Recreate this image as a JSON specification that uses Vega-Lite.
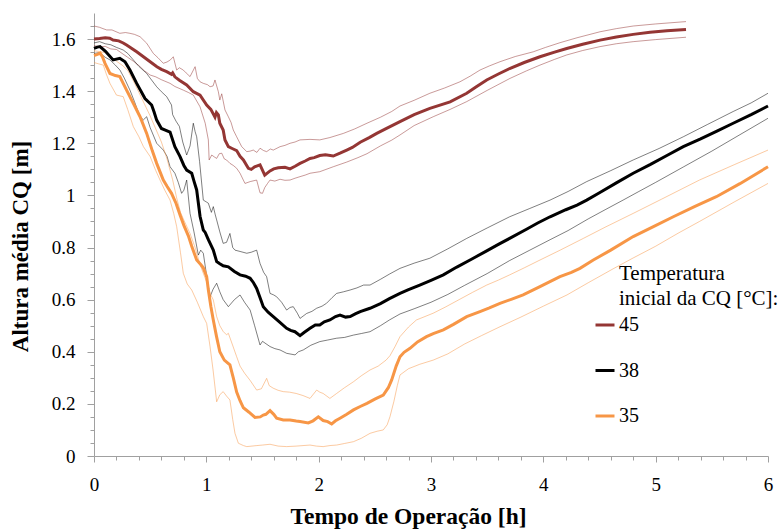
{
"$schema": "https://vega.github.io/schema/vega-lite/v6.json",
"width": 674, "height": 443,
"autosize": {"type": "none"},
"padding": {"left": 94, "top": 13, "right": 11, "bottom": 73},
"background": "white",
"config": {"view": {"stroke": null}, "font": "Liberation Serif"},
"data": {"values": [
{"s":"45","k":"m","t":0,"h":1.6},{"s":"45","k":"m","t":0.05,"h":1.602},{"s":"45","k":"m","t":0.1,"h":1.605},{"s":"45","k":"m","t":0.14,"h":1.603},{"s":"45","k":"m","t":0.17,"h":1.596},{"s":"45","k":"m","t":0.22,"h":1.593},{"s":"45","k":"m","t":0.26,"h":1.585},{"s":"45","k":"m","t":0.29,"h":1.577},{"s":"45","k":"m","t":0.33,"h":1.566},{"s":"45","k":"m","t":0.38,"h":1.551},{"s":"45","k":"m","t":0.44,"h":1.532},{"s":"45","k":"m","t":0.5,"h":1.513},{"s":"45","k":"m","t":0.56,"h":1.494},{"s":"45","k":"m","t":0.6,"h":1.484},{"s":"45","k":"m","t":0.647,"h":1.475},{"s":"45","k":"m","t":0.69,"h":1.465},{"s":"45","k":"m","t":0.7,"h":1.47},{"s":"45","k":"m","t":0.72,"h":1.455},{"s":"45","k":"m","t":0.76,"h":1.442},{"s":"45","k":"m","t":0.825,"h":1.424},{"s":"45","k":"m","t":0.884,"h":1.398},{"s":"45","k":"m","t":0.944,"h":1.385},{"s":"45","k":"m","t":1.003,"h":1.347},{"s":"45","k":"m","t":1.04,"h":1.33},{"s":"45","k":"m","t":1.077,"h":1.3},{"s":"45","k":"m","t":1.09,"h":1.318},{"s":"45","k":"m","t":1.107,"h":1.309},{"s":"45","k":"m","t":1.12,"h":1.277},{"s":"45","k":"m","t":1.15,"h":1.251},{"s":"45","k":"m","t":1.166,"h":1.213},{"s":"45","k":"m","t":1.196,"h":1.187},{"s":"45","k":"m","t":1.23,"h":1.18},{"s":"45","k":"m","t":1.27,"h":1.172},{"s":"45","k":"m","t":1.3,"h":1.15},{"s":"45","k":"m","t":1.33,"h":1.136},{"s":"45","k":"m","t":1.374,"h":1.104},{"s":"45","k":"m","t":1.4,"h":1.1},{"s":"45","k":"m","t":1.43,"h":1.11},{"s":"45","k":"m","t":1.478,"h":1.117},{"s":"45","k":"m","t":1.52,"h":1.078},{"s":"45","k":"m","t":1.567,"h":1.094},{"s":"45","k":"m","t":1.6,"h":1.102},{"s":"45","k":"m","t":1.64,"h":1.106},{"s":"45","k":"m","t":1.7,"h":1.108},{"s":"45","k":"m","t":1.745,"h":1.102},{"s":"45","k":"m","t":1.79,"h":1.112},{"s":"45","k":"m","t":1.834,"h":1.123},{"s":"45","k":"m","t":1.88,"h":1.132},{"s":"45","k":"m","t":1.923,"h":1.142},{"s":"45","k":"m","t":1.96,"h":1.145},{"s":"45","k":"m","t":2.01,"h":1.153},{"s":"45","k":"m","t":2.06,"h":1.156},{"s":"45","k":"m","t":2.13,"h":1.151},{"s":"45","k":"m","t":2.19,"h":1.162},{"s":"45","k":"m","t":2.25,"h":1.174},{"s":"45","k":"m","t":2.3,"h":1.184},{"s":"45","k":"m","t":2.37,"h":1.204},{"s":"45","k":"m","t":2.45,"h":1.222},{"s":"45","k":"m","t":2.517,"h":1.238},{"s":"45","k":"m","t":2.6,"h":1.256},{"s":"45","k":"m","t":2.724,"h":1.283},{"s":"45","k":"m","t":2.85,"h":1.31},{"s":"45","k":"m","t":2.99,"h":1.334},{"s":"45","k":"m","t":3.17,"h":1.359},{"s":"45","k":"m","t":3.318,"h":1.392},{"s":"45","k":"m","t":3.4,"h":1.416},{"s":"45","k":"m","t":3.496,"h":1.443},{"s":"45","k":"m","t":3.6,"h":1.466},{"s":"45","k":"m","t":3.7,"h":1.487},{"s":"45","k":"m","t":3.83,"h":1.51},{"s":"45","k":"m","t":3.97,"h":1.532},{"s":"45","k":"m","t":4.1,"h":1.55},{"s":"45","k":"m","t":4.208,"h":1.564},{"s":"45","k":"m","t":4.35,"h":1.58},{"s":"45","k":"m","t":4.505,"h":1.596},{"s":"45","k":"m","t":4.65,"h":1.608},{"s":"45","k":"m","t":4.8,"h":1.618},{"s":"45","k":"m","t":4.95,"h":1.626},{"s":"45","k":"m","t":5.1,"h":1.632},{"s":"45","k":"m","t":5.27,"h":1.637},
{"s":"45","k":"u","t":0,"h":1.65},{"s":"45","k":"u","t":0.05,"h":1.645},{"s":"45","k":"u","t":0.08,"h":1.64},{"s":"45","k":"u","t":0.113,"h":1.635},{"s":"45","k":"u","t":0.16,"h":1.635},{"s":"45","k":"u","t":0.23,"h":1.622},{"s":"45","k":"u","t":0.28,"h":1.625},{"s":"45","k":"u","t":0.32,"h":1.622},{"s":"45","k":"u","t":0.36,"h":1.618},{"s":"45","k":"u","t":0.41,"h":1.609},{"s":"45","k":"u","t":0.469,"h":1.584},{"s":"45","k":"u","t":0.528,"h":1.545},{"s":"45","k":"u","t":0.57,"h":1.528},{"s":"45","k":"u","t":0.617,"h":1.507},{"s":"45","k":"u","t":0.65,"h":1.512},{"s":"45","k":"u","t":0.68,"h":1.52},{"s":"45","k":"u","t":0.706,"h":1.532},{"s":"45","k":"u","t":0.736,"h":1.481},{"s":"45","k":"u","t":0.76,"h":1.49},{"s":"45","k":"u","t":0.795,"h":1.481},{"s":"45","k":"u","t":0.82,"h":1.47},{"s":"45","k":"u","t":0.855,"h":1.456},{"s":"45","k":"u","t":0.9,"h":1.494},{"s":"45","k":"u","t":0.92,"h":1.449},{"s":"45","k":"u","t":0.944,"h":1.436},{"s":"45","k":"u","t":0.973,"h":1.43},{"s":"45","k":"u","t":1.01,"h":1.425},{"s":"45","k":"u","t":1.033,"h":1.417},{"s":"45","k":"u","t":1.06,"h":1.42},{"s":"45","k":"u","t":1.077,"h":1.443},{"s":"45","k":"u","t":1.107,"h":1.398},{"s":"45","k":"u","t":1.12,"h":1.366},{"s":"45","k":"u","t":1.137,"h":1.39},{"s":"45","k":"u","t":1.166,"h":1.328},{"s":"45","k":"u","t":1.196,"h":1.302},{"s":"45","k":"u","t":1.22,"h":1.28},{"s":"45","k":"u","t":1.24,"h":1.251},{"s":"45","k":"u","t":1.27,"h":1.225},{"s":"45","k":"u","t":1.315,"h":1.187},{"s":"45","k":"u","t":1.36,"h":1.168},{"s":"45","k":"u","t":1.39,"h":1.17},{"s":"45","k":"u","t":1.418,"h":1.174},{"s":"45","k":"u","t":1.45,"h":1.165},{"s":"45","k":"u","t":1.478,"h":1.181},{"s":"45","k":"u","t":1.51,"h":1.172},{"s":"45","k":"u","t":1.537,"h":1.168},{"s":"45","k":"u","t":1.57,"h":1.178},{"s":"45","k":"u","t":1.596,"h":1.174},{"s":"45","k":"u","t":1.656,"h":1.187},{"s":"45","k":"u","t":1.7,"h":1.192},{"s":"45","k":"u","t":1.745,"h":1.2},{"s":"45","k":"u","t":1.79,"h":1.205},{"s":"45","k":"u","t":1.834,"h":1.213},{"s":"45","k":"u","t":1.923,"h":1.215},{"s":"45","k":"u","t":2.01,"h":1.213},{"s":"45","k":"u","t":2.1,"h":1.222},{"s":"45","k":"u","t":2.22,"h":1.238},{"s":"45","k":"u","t":2.32,"h":1.255},{"s":"45","k":"u","t":2.43,"h":1.277},{"s":"45","k":"u","t":2.55,"h":1.3},{"s":"45","k":"u","t":2.65,"h":1.322},{"s":"45","k":"u","t":2.724,"h":1.343},{"s":"45","k":"u","t":2.85,"h":1.365},{"s":"45","k":"u","t":2.99,"h":1.392},{"s":"45","k":"u","t":3.12,"h":1.412},{"s":"45","k":"u","t":3.258,"h":1.436},{"s":"45","k":"u","t":3.35,"h":1.458},{"s":"45","k":"u","t":3.436,"h":1.481},{"s":"45","k":"u","t":3.52,"h":1.497},{"s":"45","k":"u","t":3.614,"h":1.513},{"s":"45","k":"u","t":3.75,"h":1.533},{"s":"45","k":"u","t":3.91,"h":1.551},{"s":"45","k":"u","t":4.02,"h":1.568},{"s":"45","k":"u","t":4.148,"h":1.586},{"s":"45","k":"u","t":4.3,"h":1.605},{"s":"45","k":"u","t":4.505,"h":1.628},{"s":"45","k":"u","t":4.65,"h":1.64},{"s":"45","k":"u","t":4.8,"h":1.65},{"s":"45","k":"u","t":5,"h":1.658},{"s":"45","k":"u","t":5.27,"h":1.667},
{"s":"45","k":"l","t":0,"h":1.575},{"s":"45","k":"l","t":0.05,"h":1.57},{"s":"45","k":"l","t":0.1,"h":1.572},{"s":"45","k":"l","t":0.15,"h":1.562},{"s":"45","k":"l","t":0.2,"h":1.56},{"s":"45","k":"l","t":0.25,"h":1.545},{"s":"45","k":"l","t":0.3,"h":1.53},{"s":"45","k":"l","t":0.35,"h":1.515},{"s":"45","k":"l","t":0.4,"h":1.498},{"s":"45","k":"l","t":0.45,"h":1.478},{"s":"45","k":"l","t":0.5,"h":1.462},{"s":"45","k":"l","t":0.55,"h":1.455},{"s":"45","k":"l","t":0.6,"h":1.444},{"s":"45","k":"l","t":0.677,"h":1.43},{"s":"45","k":"l","t":0.72,"h":1.418},{"s":"45","k":"l","t":0.795,"h":1.404},{"s":"45","k":"l","t":0.84,"h":1.395},{"s":"45","k":"l","t":0.884,"h":1.385},{"s":"45","k":"l","t":0.944,"h":1.34},{"s":"45","k":"l","t":0.99,"h":1.277},{"s":"45","k":"l","t":1.018,"h":1.213},{"s":"45","k":"l","t":1.025,"h":1.136},{"s":"45","k":"l","t":1.048,"h":1.155},{"s":"45","k":"l","t":1.07,"h":1.148},{"s":"45","k":"l","t":1.092,"h":1.142},{"s":"45","k":"l","t":1.115,"h":1.16},{"s":"45","k":"l","t":1.137,"h":1.162},{"s":"45","k":"l","t":1.16,"h":1.14},{"s":"45","k":"l","t":1.18,"h":1.136},{"s":"45","k":"l","t":1.21,"h":1.123},{"s":"45","k":"l","t":1.24,"h":1.115},{"s":"45","k":"l","t":1.27,"h":1.104},{"s":"45","k":"l","t":1.3,"h":1.085},{"s":"45","k":"l","t":1.344,"h":1.046},{"s":"45","k":"l","t":1.39,"h":1.053},{"s":"45","k":"l","t":1.448,"h":1.059},{"s":"45","k":"l","t":1.478,"h":1.01},{"s":"45","k":"l","t":1.5,"h":1.008},{"s":"45","k":"l","t":1.52,"h":1.03},{"s":"45","k":"l","t":1.545,"h":1.046},{"s":"45","k":"l","t":1.567,"h":1.059},{"s":"45","k":"l","t":1.61,"h":1.055},{"s":"45","k":"l","t":1.656,"h":1.062},{"s":"45","k":"l","t":1.7,"h":1.058},{"s":"45","k":"l","t":1.745,"h":1.059},{"s":"45","k":"l","t":1.79,"h":1.066},{"s":"45","k":"l","t":1.834,"h":1.072},{"s":"45","k":"l","t":1.88,"h":1.078},{"s":"45","k":"l","t":1.923,"h":1.085},{"s":"45","k":"l","t":2.01,"h":1.091},{"s":"45","k":"l","t":2.13,"h":1.11},{"s":"45","k":"l","t":2.25,"h":1.128},{"s":"45","k":"l","t":2.35,"h":1.145},{"s":"45","k":"l","t":2.43,"h":1.16},{"s":"45","k":"l","t":2.55,"h":1.19},{"s":"45","k":"l","t":2.65,"h":1.212},{"s":"45","k":"l","t":2.724,"h":1.232},{"s":"45","k":"l","t":2.85,"h":1.268},{"s":"45","k":"l","t":3.02,"h":1.302},{"s":"45","k":"l","t":3.17,"h":1.33},{"s":"45","k":"l","t":3.318,"h":1.36},{"s":"45","k":"l","t":3.5,"h":1.403},{"s":"45","k":"l","t":3.703,"h":1.449},{"s":"45","k":"l","t":3.85,"h":1.478},{"s":"45","k":"l","t":3.97,"h":1.5},{"s":"45","k":"l","t":4.1,"h":1.522},{"s":"45","k":"l","t":4.208,"h":1.539},{"s":"45","k":"l","t":4.35,"h":1.556},{"s":"45","k":"l","t":4.505,"h":1.571},{"s":"45","k":"l","t":4.65,"h":1.582},{"s":"45","k":"l","t":4.8,"h":1.59},{"s":"45","k":"l","t":5,"h":1.598},{"s":"45","k":"l","t":5.27,"h":1.607},
{"s":"38","k":"m","t":0,"h":1.564},{"s":"38","k":"m","t":0.03,"h":1.569},{"s":"38","k":"m","t":0.053,"h":1.571},{"s":"38","k":"m","t":0.1,"h":1.554},{"s":"38","k":"m","t":0.17,"h":1.52},{"s":"38","k":"m","t":0.23,"h":1.526},{"s":"38","k":"m","t":0.276,"h":1.513},{"s":"38","k":"m","t":0.32,"h":1.481},{"s":"38","k":"m","t":0.38,"h":1.43},{"s":"38","k":"m","t":0.454,"h":1.372},{"s":"38","k":"m","t":0.513,"h":1.347},{"s":"38","k":"m","t":0.535,"h":1.32},{"s":"38","k":"m","t":0.558,"h":1.289},{"s":"38","k":"m","t":0.6,"h":1.257},{"s":"38","k":"m","t":0.64,"h":1.25},{"s":"38","k":"m","t":0.677,"h":1.243},{"s":"38","k":"m","t":0.72,"h":1.187},{"s":"38","k":"m","t":0.766,"h":1.149},{"s":"38","k":"m","t":0.8,"h":1.115},{"s":"38","k":"m","t":0.825,"h":1.097},{"s":"38","k":"m","t":0.87,"h":1.085},{"s":"38","k":"m","t":0.89,"h":1.055},{"s":"38","k":"m","t":0.914,"h":1.021},{"s":"38","k":"m","t":0.944,"h":0.92},{"s":"38","k":"m","t":0.973,"h":0.867},{"s":"38","k":"m","t":0.99,"h":0.858},{"s":"38","k":"m","t":1.018,"h":0.83},{"s":"38","k":"m","t":1.062,"h":0.79},{"s":"38","k":"m","t":1.092,"h":0.746},{"s":"38","k":"m","t":1.12,"h":0.738},{"s":"38","k":"m","t":1.15,"h":0.73},{"s":"38","k":"m","t":1.196,"h":0.726},{"s":"38","k":"m","t":1.25,"h":0.708},{"s":"38","k":"m","t":1.3,"h":0.695},{"s":"38","k":"m","t":1.35,"h":0.69},{"s":"38","k":"m","t":1.39,"h":0.682},{"s":"38","k":"m","t":1.42,"h":0.665},{"s":"38","k":"m","t":1.448,"h":0.643},{"s":"38","k":"m","t":1.48,"h":0.605},{"s":"38","k":"m","t":1.507,"h":0.573},{"s":"38","k":"m","t":1.55,"h":0.552},{"s":"38","k":"m","t":1.596,"h":0.535},{"s":"38","k":"m","t":1.65,"h":0.515},{"s":"38","k":"m","t":1.715,"h":0.49},{"s":"38","k":"m","t":1.75,"h":0.482},{"s":"38","k":"m","t":1.789,"h":0.477},{"s":"38","k":"m","t":1.834,"h":0.462},{"s":"38","k":"m","t":1.87,"h":0.474},{"s":"38","k":"m","t":1.923,"h":0.49},{"s":"38","k":"m","t":1.97,"h":0.503},{"s":"38","k":"m","t":2.01,"h":0.503},{"s":"38","k":"m","t":2.05,"h":0.515},{"s":"38","k":"m","t":2.1,"h":0.522},{"s":"38","k":"m","t":2.15,"h":0.535},{"s":"38","k":"m","t":2.19,"h":0.541},{"s":"38","k":"m","t":2.24,"h":0.533},{"s":"38","k":"m","t":2.28,"h":0.535},{"s":"38","k":"m","t":2.33,"h":0.546},{"s":"38","k":"m","t":2.37,"h":0.554},{"s":"38","k":"m","t":2.457,"h":0.567},{"s":"38","k":"m","t":2.55,"h":0.585},{"s":"38","k":"m","t":2.63,"h":0.604},{"s":"38","k":"m","t":2.724,"h":0.624},{"s":"38","k":"m","t":2.8,"h":0.638},{"s":"38","k":"m","t":2.9,"h":0.656},{"s":"38","k":"m","t":3,"h":0.674},{"s":"38","k":"m","t":3.11,"h":0.695},{"s":"38","k":"m","t":3.23,"h":0.725},{"s":"38","k":"m","t":3.36,"h":0.755},{"s":"38","k":"m","t":3.5,"h":0.788},{"s":"38","k":"m","t":3.6,"h":0.812},{"s":"38","k":"m","t":3.7,"h":0.835},{"s":"38","k":"m","t":3.85,"h":0.87},{"s":"38","k":"m","t":3.95,"h":0.894},{"s":"38","k":"m","t":4.06,"h":0.918},{"s":"38","k":"m","t":4.2,"h":0.945},{"s":"38","k":"m","t":4.3,"h":0.963},{"s":"38","k":"m","t":4.386,"h":0.982},{"s":"38","k":"m","t":4.5,"h":1.01},{"s":"38","k":"m","t":4.65,"h":1.048},{"s":"38","k":"m","t":4.8,"h":1.085},{"s":"38","k":"m","t":4.95,"h":1.118},{"s":"38","k":"m","t":5.1,"h":1.153},{"s":"38","k":"m","t":5.246,"h":1.187},{"s":"38","k":"m","t":5.4,"h":1.217},{"s":"38","k":"m","t":5.55,"h":1.248},{"s":"38","k":"m","t":5.69,"h":1.277},{"s":"38","k":"m","t":5.85,"h":1.31},{"s":"38","k":"m","t":6,"h":1.343},
{"s":"38","k":"u","t":0,"h":1.585},{"s":"38","k":"u","t":0.05,"h":1.59},{"s":"38","k":"u","t":0.1,"h":1.582},{"s":"38","k":"u","t":0.15,"h":1.578},{"s":"38","k":"u","t":0.2,"h":1.568},{"s":"38","k":"u","t":0.26,"h":1.558},{"s":"38","k":"u","t":0.3,"h":1.545},{"s":"38","k":"u","t":0.35,"h":1.52},{"s":"38","k":"u","t":0.4,"h":1.495},{"s":"38","k":"u","t":0.469,"h":1.468},{"s":"38","k":"u","t":0.5,"h":1.45},{"s":"38","k":"u","t":0.558,"h":1.417},{"s":"38","k":"u","t":0.6,"h":1.398},{"s":"38","k":"u","t":0.647,"h":1.379},{"s":"38","k":"u","t":0.69,"h":1.347},{"s":"38","k":"u","t":0.7,"h":1.31},{"s":"38","k":"u","t":0.73,"h":1.285},{"s":"38","k":"u","t":0.76,"h":1.265},{"s":"38","k":"u","t":0.79,"h":1.205},{"s":"38","k":"u","t":0.825,"h":1.155},{"s":"38","k":"u","t":0.855,"h":1.19},{"s":"38","k":"u","t":0.884,"h":1.277},{"s":"38","k":"u","t":0.9,"h":1.245},{"s":"38","k":"u","t":0.914,"h":1.225},{"s":"38","k":"u","t":0.94,"h":1.13},{"s":"38","k":"u","t":0.973,"h":0.982},{"s":"38","k":"u","t":1,"h":0.975},{"s":"38","k":"u","t":1.018,"h":0.97},{"s":"38","k":"u","t":1.045,"h":0.935},{"s":"38","k":"u","t":1.062,"h":0.957},{"s":"38","k":"u","t":1.08,"h":0.925},{"s":"38","k":"u","t":1.092,"h":0.906},{"s":"38","k":"u","t":1.12,"h":0.86},{"s":"38","k":"u","t":1.15,"h":0.816},{"s":"38","k":"u","t":1.18,"h":0.82},{"s":"38","k":"u","t":1.21,"h":0.854},{"s":"38","k":"u","t":1.235,"h":0.8},{"s":"38","k":"u","t":1.255,"h":0.79},{"s":"38","k":"u","t":1.3,"h":0.785},{"s":"38","k":"u","t":1.36,"h":0.778},{"s":"38","k":"u","t":1.4,"h":0.782},{"s":"38","k":"u","t":1.448,"h":0.79},{"s":"38","k":"u","t":1.478,"h":0.739},{"s":"38","k":"u","t":1.51,"h":0.705},{"s":"38","k":"u","t":1.537,"h":0.688},{"s":"38","k":"u","t":1.567,"h":0.624},{"s":"38","k":"u","t":1.6,"h":0.618},{"s":"38","k":"u","t":1.626,"h":0.611},{"s":"38","k":"u","t":1.67,"h":0.59},{"s":"38","k":"u","t":1.715,"h":0.56},{"s":"38","k":"u","t":1.745,"h":0.57},{"s":"38","k":"u","t":1.774,"h":0.573},{"s":"38","k":"u","t":1.81,"h":0.548},{"s":"38","k":"u","t":1.834,"h":0.528},{"s":"38","k":"u","t":1.893,"h":0.547},{"s":"38","k":"u","t":1.94,"h":0.555},{"s":"38","k":"u","t":1.982,"h":0.567},{"s":"38","k":"u","t":2.03,"h":0.575},{"s":"38","k":"u","t":2.07,"h":0.586},{"s":"38","k":"u","t":2.12,"h":0.608},{"s":"38","k":"u","t":2.16,"h":0.624},{"s":"38","k":"u","t":2.22,"h":0.63},{"s":"38","k":"u","t":2.28,"h":0.637},{"s":"38","k":"u","t":2.34,"h":0.645},{"s":"38","k":"u","t":2.4,"h":0.656},{"s":"38","k":"u","t":2.457,"h":0.656},{"s":"38","k":"u","t":2.55,"h":0.678},{"s":"38","k":"u","t":2.63,"h":0.698},{"s":"38","k":"u","t":2.724,"h":0.72},{"s":"38","k":"u","t":2.85,"h":0.74},{"s":"38","k":"u","t":2.99,"h":0.759},{"s":"38","k":"u","t":3.15,"h":0.795},{"s":"38","k":"u","t":3.318,"h":0.835},{"s":"38","k":"u","t":3.5,"h":0.875},{"s":"38","k":"u","t":3.7,"h":0.918},{"s":"38","k":"u","t":3.88,"h":0.95},{"s":"38","k":"u","t":4.06,"h":0.982},{"s":"38","k":"u","t":4.22,"h":1.015},{"s":"38","k":"u","t":4.386,"h":1.053},{"s":"38","k":"u","t":4.6,"h":1.095},{"s":"38","k":"u","t":4.8,"h":1.136},{"s":"38","k":"u","t":5.03,"h":1.18},{"s":"38","k":"u","t":5.246,"h":1.225},{"s":"38","k":"u","t":5.46,"h":1.272},{"s":"38","k":"u","t":5.69,"h":1.322},{"s":"38","k":"u","t":5.85,"h":1.355},{"s":"38","k":"u","t":6,"h":1.392},
{"s":"38","k":"l","t":0,"h":1.545},{"s":"38","k":"l","t":0.05,"h":1.548},{"s":"38","k":"l","t":0.1,"h":1.53},{"s":"38","k":"l","t":0.142,"h":1.52},{"s":"38","k":"l","t":0.19,"h":1.5},{"s":"38","k":"l","t":0.231,"h":1.481},{"s":"38","k":"l","t":0.27,"h":1.45},{"s":"38","k":"l","t":0.32,"h":1.404},{"s":"38","k":"l","t":0.36,"h":1.36},{"s":"38","k":"l","t":0.41,"h":1.302},{"s":"38","k":"l","t":0.44,"h":1.29},{"s":"38","k":"l","t":0.469,"h":1.302},{"s":"38","k":"l","t":0.5,"h":1.26},{"s":"38","k":"l","t":0.558,"h":1.2},{"s":"38","k":"l","t":0.617,"h":1.174},{"s":"38","k":"l","t":0.65,"h":1.15},{"s":"38","k":"l","t":0.677,"h":1.11},{"s":"38","k":"l","t":0.72,"h":1.085},{"s":"38","k":"l","t":0.75,"h":1.05},{"s":"38","k":"l","t":0.78,"h":1.008},{"s":"38","k":"l","t":0.8,"h":1.02},{"s":"38","k":"l","t":0.825,"h":1.059},{"s":"38","k":"l","t":0.855,"h":0.931},{"s":"38","k":"l","t":0.89,"h":0.86},{"s":"38","k":"l","t":0.929,"h":0.771},{"s":"38","k":"l","t":0.95,"h":0.79},{"s":"38","k":"l","t":0.973,"h":0.778},{"s":"38","k":"l","t":1,"h":0.7},{"s":"38","k":"l","t":1.033,"h":0.611},{"s":"38","k":"l","t":1.06,"h":0.64},{"s":"38","k":"l","t":1.092,"h":0.663},{"s":"38","k":"l","t":1.12,"h":0.63},{"s":"38","k":"l","t":1.15,"h":0.6},{"s":"38","k":"l","t":1.196,"h":0.573},{"s":"38","k":"l","t":1.25,"h":0.6},{"s":"38","k":"l","t":1.3,"h":0.618},{"s":"38","k":"l","t":1.34,"h":0.59},{"s":"38","k":"l","t":1.39,"h":0.56},{"s":"38","k":"l","t":1.43,"h":0.5},{"s":"38","k":"l","t":1.478,"h":0.426},{"s":"38","k":"l","t":1.5,"h":0.44},{"s":"38","k":"l","t":1.567,"h":0.42},{"s":"38","k":"l","t":1.61,"h":0.412},{"s":"38","k":"l","t":1.656,"h":0.407},{"s":"38","k":"l","t":1.715,"h":0.394},{"s":"38","k":"l","t":1.79,"h":0.388},{"s":"38","k":"l","t":1.82,"h":0.4},{"s":"38","k":"l","t":1.863,"h":0.407},{"s":"38","k":"l","t":1.93,"h":0.425},{"s":"38","k":"l","t":2.01,"h":0.439},{"s":"38","k":"l","t":2.08,"h":0.445},{"s":"38","k":"l","t":2.16,"h":0.452},{"s":"38","k":"l","t":2.23,"h":0.455},{"s":"38","k":"l","t":2.31,"h":0.464},{"s":"38","k":"l","t":2.38,"h":0.47},{"s":"38","k":"l","t":2.457,"h":0.477},{"s":"38","k":"l","t":2.55,"h":0.5},{"s":"38","k":"l","t":2.63,"h":0.522},{"s":"38","k":"l","t":2.724,"h":0.545},{"s":"38","k":"l","t":2.85,"h":0.565},{"s":"38","k":"l","t":3,"h":0.59},{"s":"38","k":"l","t":3.15,"h":0.62},{"s":"38","k":"l","t":3.3,"h":0.655},{"s":"38","k":"l","t":3.5,"h":0.7},{"s":"38","k":"l","t":3.7,"h":0.75},{"s":"38","k":"l","t":3.88,"h":0.79},{"s":"38","k":"l","t":4.06,"h":0.83},{"s":"38","k":"l","t":4.22,"h":0.865},{"s":"38","k":"l","t":4.4,"h":0.91},{"s":"38","k":"l","t":4.55,"h":0.945},{"s":"38","k":"l","t":4.71,"h":0.982},{"s":"38","k":"l","t":4.85,"h":1.015},{"s":"38","k":"l","t":5,"h":1.05},{"s":"38","k":"l","t":5.25,"h":1.11},{"s":"38","k":"l","t":5.5,"h":1.17},{"s":"38","k":"l","t":5.75,"h":1.233},{"s":"38","k":"l","t":6,"h":1.296},
{"s":"35","k":"m","t":0,"h":1.537},{"s":"35","k":"m","t":0.03,"h":1.541},{"s":"35","k":"m","t":0.055,"h":1.546},{"s":"35","k":"m","t":0.075,"h":1.532},{"s":"35","k":"m","t":0.098,"h":1.507},{"s":"35","k":"m","t":0.142,"h":1.468},{"s":"35","k":"m","t":0.19,"h":1.46},{"s":"35","k":"m","t":0.23,"h":1.456},{"s":"35","k":"m","t":0.26,"h":1.43},{"s":"35","k":"m","t":0.29,"h":1.404},{"s":"35","k":"m","t":0.35,"h":1.353},{"s":"35","k":"m","t":0.41,"h":1.302},{"s":"35","k":"m","t":0.469,"h":1.238},{"s":"35","k":"m","t":0.52,"h":1.17},{"s":"35","k":"m","t":0.558,"h":1.123},{"s":"35","k":"m","t":0.617,"h":1.059},{"s":"35","k":"m","t":0.65,"h":1.035},{"s":"35","k":"m","t":0.69,"h":1.008},{"s":"35","k":"m","t":0.73,"h":0.97},{"s":"35","k":"m","t":0.766,"h":0.925},{"s":"35","k":"m","t":0.8,"h":0.885},{"s":"35","k":"m","t":0.84,"h":0.845},{"s":"35","k":"m","t":0.87,"h":0.805},{"s":"35","k":"m","t":0.914,"h":0.752},{"s":"35","k":"m","t":0.95,"h":0.735},{"s":"35","k":"m","t":0.973,"h":0.722},{"s":"35","k":"m","t":1.003,"h":0.688},{"s":"35","k":"m","t":1.018,"h":0.637},{"s":"35","k":"m","t":1.04,"h":0.575},{"s":"35","k":"m","t":1.062,"h":0.522},{"s":"35","k":"m","t":1.09,"h":0.46},{"s":"35","k":"m","t":1.12,"h":0.4},{"s":"35","k":"m","t":1.16,"h":0.368},{"s":"35","k":"m","t":1.21,"h":0.35},{"s":"35","k":"m","t":1.24,"h":0.3},{"s":"35","k":"m","t":1.27,"h":0.245},{"s":"35","k":"m","t":1.3,"h":0.212},{"s":"35","k":"m","t":1.33,"h":0.185},{"s":"35","k":"m","t":1.38,"h":0.168},{"s":"35","k":"m","t":1.433,"h":0.148},{"s":"35","k":"m","t":1.48,"h":0.15},{"s":"35","k":"m","t":1.507,"h":0.157},{"s":"35","k":"m","t":1.53,"h":0.16},{"s":"35","k":"m","t":1.567,"h":0.174},{"s":"35","k":"m","t":1.6,"h":0.16},{"s":"35","k":"m","t":1.626,"h":0.145},{"s":"35","k":"m","t":1.685,"h":0.138},{"s":"35","k":"m","t":1.745,"h":0.138},{"s":"35","k":"m","t":1.8,"h":0.134},{"s":"35","k":"m","t":1.834,"h":0.132},{"s":"35","k":"m","t":1.908,"h":0.127},{"s":"35","k":"m","t":1.95,"h":0.135},{"s":"35","k":"m","t":1.997,"h":0.15},{"s":"35","k":"m","t":2.04,"h":0.136},{"s":"35","k":"m","t":2.08,"h":0.132},{"s":"35","k":"m","t":2.116,"h":0.123},{"s":"35","k":"m","t":2.15,"h":0.135},{"s":"35","k":"m","t":2.19,"h":0.145},{"s":"35","k":"m","t":2.25,"h":0.16},{"s":"35","k":"m","t":2.31,"h":0.177},{"s":"35","k":"m","t":2.37,"h":0.19},{"s":"35","k":"m","t":2.43,"h":0.202},{"s":"35","k":"m","t":2.5,"h":0.218},{"s":"35","k":"m","t":2.575,"h":0.234},{"s":"35","k":"m","t":2.62,"h":0.262},{"s":"35","k":"m","t":2.65,"h":0.292},{"s":"35","k":"m","t":2.69,"h":0.345},{"s":"35","k":"m","t":2.724,"h":0.381},{"s":"35","k":"m","t":2.76,"h":0.398},{"s":"35","k":"m","t":2.813,"h":0.413},{"s":"35","k":"m","t":2.88,"h":0.438},{"s":"35","k":"m","t":2.96,"h":0.458},{"s":"35","k":"m","t":3.02,"h":0.47},{"s":"35","k":"m","t":3.11,"h":0.484},{"s":"35","k":"m","t":3.2,"h":0.505},{"s":"35","k":"m","t":3.318,"h":0.535},{"s":"35","k":"m","t":3.436,"h":0.554},{"s":"35","k":"m","t":3.52,"h":0.568},{"s":"35","k":"m","t":3.614,"h":0.586},{"s":"35","k":"m","t":3.72,"h":0.602},{"s":"35","k":"m","t":3.82,"h":0.618},{"s":"35","k":"m","t":3.97,"h":0.65},{"s":"35","k":"m","t":4.05,"h":0.667},{"s":"35","k":"m","t":4.148,"h":0.688},{"s":"35","k":"m","t":4.25,"h":0.705},{"s":"35","k":"m","t":4.326,"h":0.72},{"s":"35","k":"m","t":4.445,"h":0.752},{"s":"35","k":"m","t":4.6,"h":0.79},{"s":"35","k":"m","t":4.8,"h":0.842},{"s":"35","k":"m","t":4.98,"h":0.88},{"s":"35","k":"m","t":5.157,"h":0.918},{"s":"35","k":"m","t":5.35,"h":0.958},{"s":"35","k":"m","t":5.54,"h":0.995},{"s":"35","k":"m","t":5.75,"h":1.045},{"s":"35","k":"m","t":6,"h":1.11},
{"s":"35","k":"u","t":0,"h":1.555},{"s":"35","k":"u","t":0.05,"h":1.552},{"s":"35","k":"u","t":0.1,"h":1.548},{"s":"35","k":"u","t":0.15,"h":1.53},{"s":"35","k":"u","t":0.2,"h":1.515},{"s":"35","k":"u","t":0.25,"h":1.5},{"s":"35","k":"u","t":0.3,"h":1.48},{"s":"35","k":"u","t":0.35,"h":1.44},{"s":"35","k":"u","t":0.4,"h":1.395},{"s":"35","k":"u","t":0.45,"h":1.35},{"s":"35","k":"u","t":0.5,"h":1.305},{"s":"35","k":"u","t":0.55,"h":1.255},{"s":"35","k":"u","t":0.6,"h":1.205},{"s":"35","k":"u","t":0.65,"h":1.14},{"s":"35","k":"u","t":0.7,"h":1.06},{"s":"35","k":"u","t":0.736,"h":0.99},{"s":"35","k":"u","t":0.77,"h":0.935},{"s":"35","k":"u","t":0.8,"h":0.905},{"s":"35","k":"u","t":0.855,"h":0.854},{"s":"35","k":"u","t":0.9,"h":0.8},{"s":"35","k":"u","t":0.94,"h":0.74},{"s":"35","k":"u","t":0.973,"h":0.701},{"s":"35","k":"u","t":1.01,"h":0.66},{"s":"35","k":"u","t":1.033,"h":0.624},{"s":"35","k":"u","t":1.062,"h":0.599},{"s":"35","k":"u","t":1.092,"h":0.535},{"s":"35","k":"u","t":1.12,"h":0.5},{"s":"35","k":"u","t":1.15,"h":0.478},{"s":"35","k":"u","t":1.18,"h":0.465},{"s":"35","k":"u","t":1.196,"h":0.471},{"s":"35","k":"u","t":1.23,"h":0.43},{"s":"35","k":"u","t":1.27,"h":0.381},{"s":"35","k":"u","t":1.3,"h":0.345},{"s":"35","k":"u","t":1.34,"h":0.318},{"s":"35","k":"u","t":1.39,"h":0.29},{"s":"35","k":"u","t":1.448,"h":0.253},{"s":"35","k":"u","t":1.49,"h":0.258},{"s":"35","k":"u","t":1.537,"h":0.298},{"s":"35","k":"u","t":1.56,"h":0.27},{"s":"35","k":"u","t":1.596,"h":0.26},{"s":"35","k":"u","t":1.64,"h":0.252},{"s":"35","k":"u","t":1.685,"h":0.247},{"s":"35","k":"u","t":1.74,"h":0.245},{"s":"35","k":"u","t":1.8,"h":0.24},{"s":"35","k":"u","t":1.86,"h":0.232},{"s":"35","k":"u","t":1.923,"h":0.221},{"s":"35","k":"u","t":1.982,"h":0.253},{"s":"35","k":"u","t":2.01,"h":0.245},{"s":"35","k":"u","t":2.04,"h":0.24},{"s":"35","k":"u","t":2.1,"h":0.221},{"s":"35","k":"u","t":2.16,"h":0.24},{"s":"35","k":"u","t":2.23,"h":0.262},{"s":"35","k":"u","t":2.31,"h":0.285},{"s":"35","k":"u","t":2.38,"h":0.308},{"s":"35","k":"u","t":2.457,"h":0.33},{"s":"35","k":"u","t":2.53,"h":0.345},{"s":"35","k":"u","t":2.6,"h":0.368},{"s":"35","k":"u","t":2.635,"h":0.385},{"s":"35","k":"u","t":2.68,"h":0.42},{"s":"35","k":"u","t":2.724,"h":0.458},{"s":"35","k":"u","t":2.8,"h":0.495},{"s":"35","k":"u","t":2.87,"h":0.522},{"s":"35","k":"u","t":3.02,"h":0.548},{"s":"35","k":"u","t":3.13,"h":0.572},{"s":"35","k":"u","t":3.25,"h":0.6},{"s":"35","k":"u","t":3.37,"h":0.628},{"s":"35","k":"u","t":3.496,"h":0.656},{"s":"35","k":"u","t":3.6,"h":0.675},{"s":"35","k":"u","t":3.7,"h":0.695},{"s":"35","k":"u","t":3.83,"h":0.722},{"s":"35","k":"u","t":3.97,"h":0.752},{"s":"35","k":"u","t":4.15,"h":0.79},{"s":"35","k":"u","t":4.356,"h":0.835},{"s":"35","k":"u","t":4.55,"h":0.878},{"s":"35","k":"u","t":4.8,"h":0.931},{"s":"35","k":"u","t":5.05,"h":0.985},{"s":"35","k":"u","t":5.39,"h":1.059},{"s":"35","k":"u","t":5.7,"h":1.118},{"s":"35","k":"u","t":6,"h":1.174},
{"s":"35","k":"l","t":0,"h":1.51},{"s":"35","k":"l","t":0.04,"h":1.505},{"s":"35","k":"l","t":0.083,"h":1.5},{"s":"35","k":"l","t":0.11,"h":1.465},{"s":"35","k":"l","t":0.142,"h":1.43},{"s":"35","k":"l","t":0.2,"h":1.385},{"s":"35","k":"l","t":0.26,"h":1.379},{"s":"35","k":"l","t":0.3,"h":1.33},{"s":"35","k":"l","t":0.35,"h":1.264},{"s":"35","k":"l","t":0.4,"h":1.225},{"s":"35","k":"l","t":0.44,"h":1.187},{"s":"35","k":"l","t":0.5,"h":1.149},{"s":"35","k":"l","t":0.55,"h":1.095},{"s":"35","k":"l","t":0.588,"h":1.059},{"s":"35","k":"l","t":0.63,"h":1.02},{"s":"35","k":"l","t":0.677,"h":0.982},{"s":"35","k":"l","t":0.71,"h":0.93},{"s":"35","k":"l","t":0.736,"h":0.88},{"s":"35","k":"l","t":0.77,"h":0.78},{"s":"35","k":"l","t":0.795,"h":0.701},{"s":"35","k":"l","t":0.83,"h":0.66},{"s":"35","k":"l","t":0.87,"h":0.637},{"s":"35","k":"l","t":0.92,"h":0.59},{"s":"35","k":"l","t":0.973,"h":0.535},{"s":"35","k":"l","t":1.003,"h":0.509},{"s":"35","k":"l","t":1.033,"h":0.42},{"s":"35","k":"l","t":1.06,"h":0.33},{"s":"35","k":"l","t":1.092,"h":0.208},{"s":"35","k":"l","t":1.12,"h":0.235},{"s":"35","k":"l","t":1.15,"h":0.247},{"s":"35","k":"l","t":1.18,"h":0.23},{"s":"35","k":"l","t":1.21,"h":0.215},{"s":"35","k":"l","t":1.235,"h":0.14},{"s":"35","k":"l","t":1.255,"h":0.087},{"s":"35","k":"l","t":1.285,"h":0.049},{"s":"35","k":"l","t":1.33,"h":0.04},{"s":"35","k":"l","t":1.36,"h":0.036},{"s":"35","k":"l","t":1.45,"h":0.04},{"s":"35","k":"l","t":1.5,"h":0.042},{"s":"35","k":"l","t":1.567,"h":0.045},{"s":"35","k":"l","t":1.64,"h":0.038},{"s":"35","k":"l","t":1.715,"h":0.036},{"s":"35","k":"l","t":1.8,"h":0.038},{"s":"35","k":"l","t":1.923,"h":0.042},{"s":"35","k":"l","t":1.98,"h":0.038},{"s":"35","k":"l","t":2.04,"h":0.036},{"s":"35","k":"l","t":2.1,"h":0.04},{"s":"35","k":"l","t":2.16,"h":0.042},{"s":"35","k":"l","t":2.23,"h":0.048},{"s":"35","k":"l","t":2.31,"h":0.055},{"s":"35","k":"l","t":2.38,"h":0.068},{"s":"35","k":"l","t":2.457,"h":0.087},{"s":"35","k":"l","t":2.52,"h":0.095},{"s":"35","k":"l","t":2.575,"h":0.1},{"s":"35","k":"l","t":2.61,"h":0.12},{"s":"35","k":"l","t":2.635,"h":0.151},{"s":"35","k":"l","t":2.67,"h":0.21},{"s":"35","k":"l","t":2.7,"h":0.27},{"s":"35","k":"l","t":2.724,"h":0.311},{"s":"35","k":"l","t":2.8,"h":0.335},{"s":"35","k":"l","t":2.9,"h":0.352},{"s":"35","k":"l","t":3.02,"h":0.368},{"s":"35","k":"l","t":3.15,"h":0.392},{"s":"35","k":"l","t":3.3,"h":0.43},{"s":"35","k":"l","t":3.45,"h":0.462},{"s":"35","k":"l","t":3.614,"h":0.496},{"s":"35","k":"l","t":3.8,"h":0.533},{"s":"35","k":"l","t":4,"h":0.575},{"s":"35","k":"l","t":4.21,"h":0.618},{"s":"35","k":"l","t":4.4,"h":0.665},{"s":"35","k":"l","t":4.62,"h":0.718},{"s":"35","k":"l","t":4.8,"h":0.76},{"s":"35","k":"l","t":5,"h":0.805},{"s":"35","k":"l","t":5.2,"h":0.855},{"s":"35","k":"l","t":5.39,"h":0.9},{"s":"35","k":"l","t":5.7,"h":0.975},{"s":"35","k":"l","t":6,"h":1.046}
]},
"encoding": {
  "color": {"field": "s", "type": "nominal",
    "scale": {"domain": ["45", "38", "35"], "range": ["#943634", "#000000", "#f79646"]},
    "legend": {"title": ["Temperatura", "inicial da CQ [°C]:"], "orient": "none", "legendX": 525, "legendY": 250,
      "padding": 0, "titleFont": "Liberation Serif", "titleFontSize": 21, "titleFontWeight": "normal", "titleColor": "#000000", "titleLineHeight": 25, "titlePadding": 5,
      "labelFont": "Liberation Serif", "labelFontSize": 20, "labelColor": "#000000", "labelOffset": 3, "symbolOffset": -25,
      "symbolType": "stroke", "symbolSize": 361, "symbolStrokeWidth": 3, "symbolOpacity": 1, "rowPadding": 24.5}}
},
"layer": [
  {"transform": [{"filter": "datum.k != 'm'"}],
   "mark": {"type": "line", "strokeWidth": 1, "opacity": 0.5},
   "encoding": {
     "x": {"field": "t", "type": "quantitative", "scale": {"domain": [0, 6], "nice": false},
       "axis": {"orient": "bottom", "values": [0.2,0.4,0.6,0.8,1.2,1.4,1.6,1.8,2.2,2.4,2.6,2.8,3.2,3.4,3.6,3.8,4.2,4.4,4.6,4.8,5.2,5.4,5.6,5.8], "labels": false, "domain": false, "grid": false, "tickSize": 4, "tickColor": "#a0a0a0", "title": null}},
     "y": {"field": "h", "type": "quantitative", "scale": {"domain": [0, 1.7], "nice": false},
       "axis": {"orient": "left", "values": [0.05,0.1,0.15,0.25,0.3,0.35,0.45,0.5,0.55,0.65,0.7,0.75,0.85,0.9,0.95,1.05,1.1,1.15,1.25,1.3,1.35,1.45,1.5,1.55,1.65], "labels": false, "domain": false, "grid": false, "tickSize": 4, "tickColor": "#a0a0a0", "title": null}},
     "detail": {"field": "k"}
   }},
  {"transform": [{"filter": "datum.k == 'm'"}],
   "mark": {"type": "line", "strokeWidth": 3},
   "encoding": {
     "x": {"field": "t", "type": "quantitative", "scale": {"domain": [0, 6], "nice": false},
       "axis": {"orient": "bottom", "values": [0,1,2,3,4,5,6], "format": "~g", "grid": false, "tickSize": 6, "tickColor": "#a0a0a0", "domainColor": "#a0a0a0",
         "labelFont": "Liberation Serif", "labelFontSize": 19, "labelColor": "#000000", "labelPadding": 13, "labelFlush": false, "labelOverlap": false,
         "title": "Tempo de Operação [h]", "titleFont": "Liberation Serif", "titleFontSize": 23.5, "titleFontWeight": "bold", "titleColor": "#000000",
         "titleX": 314, "titleY": 67, "titleBaseline": "alphabetic", "titleAlign": "center"}},
     "y": {"field": "h", "type": "quantitative", "scale": {"domain": [0, 1.7], "nice": false},
       "axis": {"orient": "left", "values": [0,0.2,0.4,0.6,0.8,1,1.2,1.4,1.6], "format": "~g", "grid": false, "tickSize": 7, "tickColor": "#a0a0a0", "domainColor": "#a0a0a0",
         "labelFont": "Liberation Serif", "labelFontSize": 19, "labelColor": "#000000", "labelPadding": 12, "labelFlush": false, "labelOverlap": false,
         "title": "Altura média  CQ [m]", "titleFont": "Liberation Serif", "titleFontSize": 23, "titleFontWeight": "bold", "titleColor": "#000000",
         "titleX": -67, "titleY": 233, "titleBaseline": "alphabetic", "titleAlign": "center", "titleAngle": -90}}
   }}
],
"resolve": {"scale": {"x": "independent", "y": "independent"}}
}
